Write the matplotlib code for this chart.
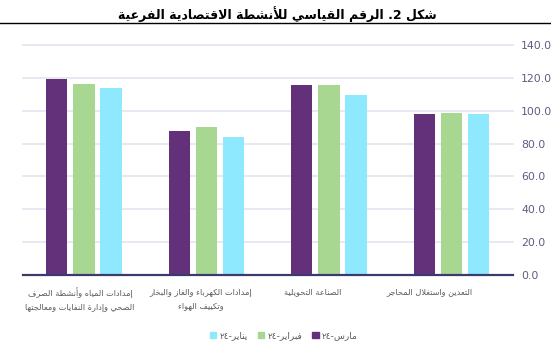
import re
import numpy as np
import matplotlib
matplotlib.use("Agg")
import matplotlib.pyplot as plt
import matplotlib.transforms as mtransforms
from matplotlib.lines import Line2D
from matplotlib.patches import Patch

# data (RTL order: first category is drawn on the right)
categories = [
    "التعدين واستغلال المحاجر",
    "الصناعة التحويلية",
    "إمدادات الكهرباء والغاز والبخار\nوتكييف الهواء",
    "إمدادات المياه وأنشطة الصرف\nالصحي وإدارة النفايات ومعالجتها",
]
mar_24 = [98.0, 115.9, 87.9, 119.0]
feb_24 = [98.4, 115.7, 90.3, 116.5]
jan_24 = [97.8, 109.8, 84.2, 114.1]
series_names = ["مارس-٢٤", "فبراير-٢٤", "يناير-٢٤"]
title = "شكل 2. الرقم القياسي للأنشطة الاقتصادية الفرعية"
yticks = [0, 20, 40, 60, 80, 100, 120, 140]

# --- minimal arabic shaping (matplotlib has no bidi / joining) ---
dual = {'ب': 0xFE8F, 'ت': 0xFE95, 'ث': 0xFE99, 'ج': 0xFE9D, 'ح': 0xFEA1, 'خ': 0xFEA5,
        'س': 0xFEB1, 'ش': 0xFEB5, 'ص': 0xFEB9, 'ض': 0xFEBD, 'ط': 0xFEC1, 'ظ': 0xFEC5,
        'ع': 0xFEC9, 'غ': 0xFECD, 'ف': 0xFED1, 'ق': 0xFED5, 'ك': 0xFED9, 'ل': 0xFEDD,
        'م': 0xFEE1, 'ن': 0xFEE5, 'ه': 0xFEE9, 'ي': 0xFEF1, 'ئ': 0xFE89}
right = {'آ': 0xFE81, 'أ': 0xFE83, 'ؤ': 0xFE85, 'إ': 0xFE87, 'ا': 0xFE8D, 'ة': 0xFE93,
         'د': 0xFEA9, 'ذ': 0xFEAB, 'ر': 0xFEAD, 'ز': 0xFEAF, 'و': 0xFEED, 'ى': 0xFEEF}
lamalef = {'آ': 0xFEF5, 'أ': 0xFEF7, 'إ': 0xFEF9, 'ا': 0xFEFB}


def shape_line(s):
    out = []
    i = 0
    n = len(s)
    prev_joins = False
    while i < n:
        c = s[i]
        if c == 'ل' and i + 1 < n and s[i + 1] in lamalef:
            out.append(chr(lamalef[s[i + 1]] + (1 if prev_joins else 0)))
            prev_joins = False
            i += 2
            continue
        if c in dual:
            nxt = s[i + 1] if i + 1 < n else ''
            next_joins = nxt in dual or nxt in right
            if prev_joins and next_joins:
                f = 3
            elif prev_joins:
                f = 1
            elif next_joins:
                f = 2
            else:
                f = 0
            out.append(chr(dual[c] + f))
            prev_joins = True
        elif c in right:
            out.append(chr(right[c] + (1 if prev_joins else 0)))
            prev_joins = False
        else:
            out.append(c)
            prev_joins = False
        i += 1
    vis = ''.join(reversed(out))
    return re.sub(r'[0-9\u0660-\u0669]+', lambda m: m.group(0)[::-1], vis)


def ar(s):
    return '\n'.join(shape_line(l) for l in s.split('\n'))


plt.rcParams['font.family'] = ['DejaVu Sans']

purple = '#63307a'
green = '#a7d791'
cyan = '#8ee8fe'

fig = plt.figure(figsize=(5.51, 3.64), dpi=100)
ax = fig.add_axes([0.0412, 0.2445, 0.8893, 0.6319])

x = np.arange(len(categories))
w = 0.175
step = 0.222
# axis is inverted, so +step ends up on the left
ax.bar(x + step, mar_24, w, color=purple, zorder=3)
ax.bar(x, feb_24, w, color=green, zorder=3)
ax.bar(x - step, jan_24, w, color=cyan, zorder=3)

ax.set_xlim(-0.5, 3.5)
ax.invert_xaxis()
ax.set_ylim(0, 140)
ax.set_yticks(yticks)
ax.set_yticklabels([f"{v:.1f}" for v in yticks])
ax.yaxis.tick_right()
ax.tick_params(axis='y', length=0, pad=6, labelsize=7.8, labelcolor='#5c5c80')
ax.grid(axis='y', color='#e2e0ef', lw=1.1, zorder=0)
for gl in ax.get_ygridlines():
    gl.set_clip_on(False)
ax.set_xticks(x)
ax.set_xticklabels([ar(c) for c in categories], fontsize=5.9, color='#5a5a5a',
                   multialignment='center', linespacing=1.6)
ax.tick_params(axis='x', length=0, pad=9)

# labels in the original sit a little left of the group centres
shifts = [-22, -16, -6, -4]
for lab, dx in zip(ax.get_xticklabels(), shifts):
    lab.set_transform(lab.get_transform() +
                      mtransforms.ScaledTranslation(dx / 100, 0, fig.dpi_scale_trans))

for s in ['top', 'left', 'right']:
    ax.spines[s].set_visible(False)
ax.spines['bottom'].set_color('#3b3a6c')
ax.spines['bottom'].set_linewidth(1.6)
ax.spines['bottom'].set_zorder(4)

fig.text(0.503, 0.962, ar(title), ha='center', va='center', fontsize=9,
         fontweight='bold', color='black')
fig.add_artist(Line2D([0, 1], [0.937, 0.937], transform=fig.transFigure,
                      color='black', lw=1.0))

handles = [Patch(color=cyan), Patch(color=green), Patch(color=purple)]
labels = [ar(series_names[2]), ar(series_names[1]), ar(series_names[0])]
fig.legend(handles, labels, loc='center', bbox_to_anchor=(0.515, 0.077), ncol=3,
           frameon=False, fontsize=6.5, handlelength=0.7, handleheight=0.7,
           handletextpad=0.4, columnspacing=1.1, labelcolor='#5a5a5a')

fig.savefig('out.png', dpi=100)
